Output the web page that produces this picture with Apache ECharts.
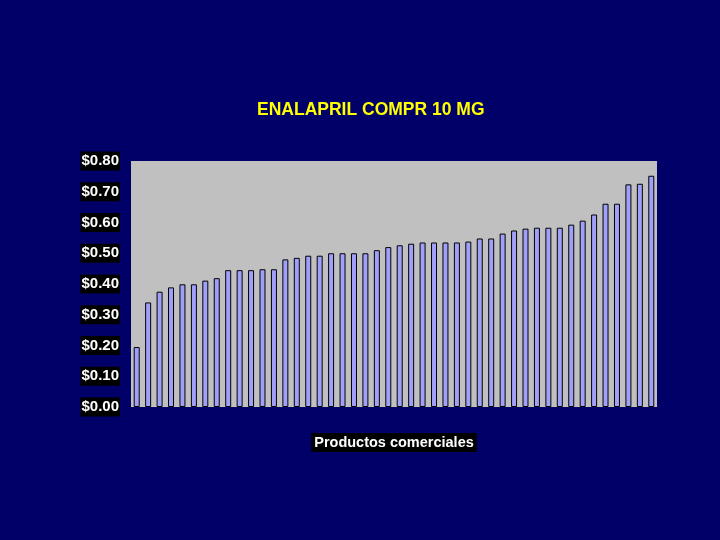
<!DOCTYPE html>
<html>
<head>
<meta charset="utf-8">
<script src="https://cdn.jsdelivr.net/npm/echarts@6/dist/echarts.min.js"></script>
<style>
html,body{margin:0;padding:0;background:#000068;}
#chart{width:720px;height:540px;}
</style>
</head>
<body>
<div id="chart"></div>
<script>
const titleText = 'ENALAPRIL COMPR 10 MG';
const xAxisName = 'Productos comerciales';
const prices = [
  0.195, 0.34, 0.375, 0.389, 0.399, 0.399, 0.411, 0.419, 0.445, 0.445,
  0.445, 0.448, 0.448, 0.48, 0.485, 0.492, 0.492, 0.50, 0.50, 0.50,
  0.50, 0.51, 0.52, 0.526, 0.531, 0.535, 0.535, 0.535, 0.535, 0.538,
  0.548, 0.548, 0.564, 0.574, 0.58, 0.583, 0.583, 0.583, 0.593, 0.606,
  0.626, 0.661, 0.661, 0.724, 0.726, 0.752
];
const categories = prices.map((_, i) => 'P' + (i + 1));
const yMin = 0, yMax = 0.8, yStep = 0.1;

const FONT = '"Liberation Sans Narrow", "Arial Narrow", "Liberation Sans", Arial, sans-serif';
const chart = echarts.init(document.getElementById('chart'));
chart.setOption({
  backgroundColor: '#000068',
  animation: false,
  title: {
    text: titleText,
    left: 252,
    top: 96,
    textStyle: { color: '#FFFF00', fontFamily: FONT, fontWeight: 'bold', fontSize: 17.5 }
  },
  grid: {
    left: 131, right: 63, top: 161, bottom: 133,
    show: true, backgroundColor: '#C0C0C0', borderWidth: 0
  },
  xAxis: {
    type: 'category',
    data: categories,
    axisLine: { show: false },
    axisTick: { show: false },
    axisLabel: { show: false },
    name: xAxisName,
    nameLocation: 'middle',
    nameGap: 26,
    nameTextStyle: {
      color: '#FFFFFF', fontFamily: FONT, fontWeight: 'bold', fontSize: 14.5,
      backgroundColor: '#000000', padding: [2, 3, 2, 3]
    }
  },
  yAxis: {
    type: 'value',
    min: yMin, max: yMax, interval: yStep,
    axisLine: { show: false },
    axisTick: { show: false },
    splitLine: { show: false },
    axisLabel: {
      margin: 11,
      color: '#FFFFFF', fontFamily: FONT, fontWeight: 'bold', fontSize: 15,
      backgroundColor: '#000000', padding: [2, 1, 2, 1],
      formatter: v => '$' + v.toFixed(2)
    }
  },
  series: [{
    type: 'bar',
    data: prices,
    barWidth: 6,
    itemStyle: { color: '#A0A0FA', borderColor: '#000000', borderWidth: 1 }
  }]
});
</script>
</body>
</html>
